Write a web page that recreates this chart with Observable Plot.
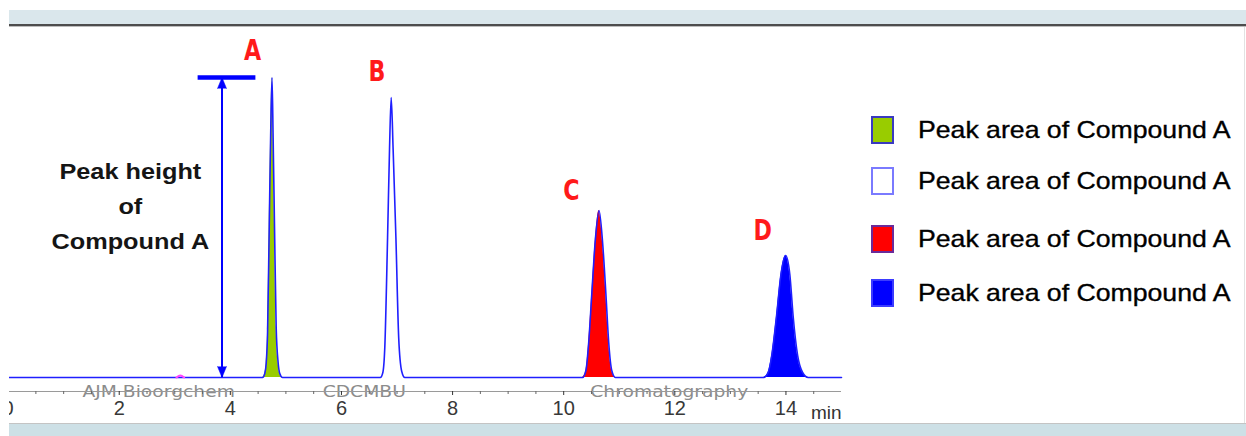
<!DOCTYPE html>
<html>
<head>
<meta charset="utf-8">
<script src="https://cdn.jsdelivr.net/npm/d3@7"></script>
<script src="https://cdn.jsdelivr.net/npm/@observablehq/plot@0.6"></script>
<style>
  body { margin: 0; background: #fff; }
  #wrap { position: relative; width: 1246px; height: 436px; overflow: hidden; font-family: "Liberation Sans", Arial, sans-serif; }
  #topband { position: absolute; left: 9px; right: 0; top: 10px; height: 14px; background: #dae7ec; }
  #topline { position: absolute; left: 9px; right: 0; top: 24px; height: 2px; background: #4d4d4d; }
  #topline2 { position: absolute; left: 9px; right: 0; top: 26px; height: 1px; background: #bdbdbd; }
  #rightline { position: absolute; right: 1px; width: 1px; top: 27px; height: 396px; background: #e2e2e2; }
  #chart { position: absolute; left: 9px; top: 27px; }
  #botline { position: absolute; left: 9px; right: 0; top: 423px; height: 1px; background: #c4c4c4; }
  #botband { position: absolute; left: 9px; right: 0; top: 424px; bottom: 0; background: #cde0e6; }
  .row { position: absolute; left: 871px; height: 28px; display: flex; align-items: center; }
  .sw { width: 23px; height: 28px; box-sizing: border-box; border: 2px solid #3333cc; }
  .lt { margin-left: 24px; font-size: 24px; color: #000; -webkit-text-stroke: 0.35px #000; white-space: nowrap; display: inline-block; transform: scaleX(1.11); transform-origin: left center; }
</style>
</head>
<body>
<div id="wrap">
  <div id="topband"></div>
  <div id="topline"></div>
  <div id="topline2"></div>
  <div id="rightline"></div>
  <div id="chart"></div>
  <div id="botline"></div>
  <div id="botband"></div>
  <div id="legend"></div>
</div>
<script>
// ---- Data (retention time in min, signal in mAU) ----
const peakNames = ["A", "B", "C", "D"];
const peakA = [[4.58,0],[4.62,4],[4.645,14],[4.67,45],[4.70,151],[4.725,240],[4.75,300],[4.77,240],[4.795,151],[4.825,50],[4.86,15],[4.89,4],[4.94,0]];
const peakB = [[6.70,0],[6.745,5],[6.78,30],[6.83,140],[6.865,228],[6.895,280],[6.93,228],[6.98,140],[7.03,40],[7.085,6],[7.14,0]];
const peakC = [[10.34,0],[10.40,7],[10.45,35],[10.505,83],[10.57,138],[10.636,167],[10.70,135],[10.76,83],[10.81,35],[10.865,7],[10.93,0]];
const peakD = [[13.60,0],[13.68,5],[13.75,24],[13.83,61],[13.91,103],[13.995,122],[14.07,103],[14.13,61],[14.21,22],[14.30,5],[14.40,0]];
const runStart = 0, runEnd = 15;
const blip = [[3.03,0],[3.10,2],[3.17,0]];

const labelTimes = [4.40, 6.64, 10.14, 13.58];
const labelHeights = [327, 306, 187, 147];

const majorTicks = [0, 2, 4, 6, 8, 10, 12, 14];
const minorTicks = [0.5,1,1.5,2.5,3,3.5,4.5,5,5.5,6.5,7,7.5,8.5,9,9.5,10.5,11,11.5,12.5,13,13.5,14.5];

const watermarks = ["AJM Bioorgchem", "CDCMBU", "Chromatography"];
const watermarkTimes = [2.71, 6.41, 11.9];

const heightNote = "Peak height\nof\nCompound A";
const heightNoteTime = 2.2, heightNoteLevel = 175;
const arrowTime = 3.85;
const barTimes = [3.42, 4.46];

const legendLabels = ["Peak area of Compound A", "Peak area of Compound A", "Peak area of Compound A", "Peak area of Compound A"];
const fills = ["#99cc00", "#ffffff", "#ff0000", "#0000ff"];
const legendBorders = ["#3a3ac0", "#7a7aff", "#6a2a9a", "#3b3bff"];

// ---- Derived ----
const peaks = [peakA, peakB, peakC, peakD];
const trace = [[runStart, 0], ...peakA, ...peakB, ...peakC, ...peakD, [runEnd, 0]];
const heightA = d3.max(peakA, d => d[1]);
const labels = peakNames.map((n, i) => ({name: n, t: labelTimes[i], v: labelHeights[i]}));
const traceBlue = "#1f1fff";
const fx = d => d[0], fy = d => d[1];
const sans = "Liberation Sans, Arial, sans-serif";

const marks = [];
peaks.forEach((p, i) => {
  marks.push(Plot.areaY(p, {x: fx, y: fy, fill: fills[i], curve: "monotone-x"}));
});
marks.push(
  Plot.text(watermarks, {x: (d, i) => watermarkTimes[i], y: -14, text: d => d, fontFamily: "DejaVu Sans", fontSize: 16, fill: "#8c8c8c", ariaDescription: "wm"}),
  Plot.ruleY([-14], {stroke: "#9a9a9a", strokeWidth: 1}),
  Plot.axisX(minorTicks, {tickSize: 3, tickFormat: () => "", stroke: "#666", label: null}),
  Plot.axisX(majorTicks, {tickSize: 4, tickPadding: 5, fontSize: 20, fontFamily: sans, stroke: "#333", fill: "#383838", label: null}),
  Plot.text(["min"], {frameAnchor: "bottom-right", textAnchor: "end", lineAnchor: "middle", dy: 21, fontSize: 19, fill: "#333", fontFamily: sans}),
  Plot.line(trace, {x: fx, y: fy, stroke: traceBlue, strokeWidth: 1.6, curve: "monotone-x"}),
  Plot.line(blip, {x: fx, y: fy, stroke: "#ff44ff", strokeWidth: 2, curve: "monotone-x"}),
  Plot.ruleX([arrowTime], {y1: 0, y2: heightA, stroke: "#0000ff", strokeWidth: 2}),
  Plot.ruleY([heightA], {x1: barTimes[0], x2: barTimes[1], stroke: "#0000ff", strokeWidth: 4.5}),
  Plot.vector([[arrowTime, heightA]], {x: fx, y: fy, length: 11, rotate: 0, anchor: "end", shape: "spike", r: 4.5, fill: "#0000ff", stroke: "#0000ff", strokeWidth: 0.5}),
  Plot.vector([[arrowTime, 0]], {x: fx, y: fy, length: 11, rotate: 180, anchor: "end", shape: "spike", r: 4.5, fill: "#0000ff", stroke: "#0000ff", strokeWidth: 0.5}),
  Plot.text([heightNote], {x: heightNoteTime, y: heightNoteLevel, text: d => d, fontSize: 22, fontWeight: "bold", lineHeight: 1.59, fill: "#151515", fontFamily: sans, ariaDescription: "note"}),
  Plot.text(labels, {x: "t", y: "v", text: "name", fill: "#ff1a1a", fontSize: 29, fontWeight: "bold", fontFamily: "'Liberation Sans Narrow', 'DejaVu Sans Condensed', 'Liberation Sans', sans-serif", ariaDescription: "peaklabel"})
);

const plot = Plot.plot({
  width: 1237,
  height: 397,
  marginTop: 0, marginRight: 405, marginBottom: 33, marginLeft: 0,
  style: {background: "transparent"},
  x: {domain: [runStart, runEnd], range: [-1.4, 832]},
  y: {domain: [-14, 350], axis: null},
  marks
});

// horizontal stretch of some texts, to match the reference's wide lettering
function stretch(svg, desc, k) {
  svg.querySelectorAll(`g[aria-description="${desc}"] text`).forEach(t => {
    let tr = t.getAttribute("transform");
    if (!tr) {
      const x = t.getAttribute("x") || 0, y = t.getAttribute("y") || 0;
      t.removeAttribute("x"); t.removeAttribute("y");
      tr = `translate(${x},${y})`;
    }
    t.setAttribute("transform", tr + ` scale(${k},1)`);
  });
}
stretch(plot, "wm", 1.17);
stretch(plot, "note", 1.15);
stretch(plot, "peaklabel", 0.85);

document.getElementById("chart").appendChild(plot);

// ---- Legend (HTML) ----
const legendTops = [116, 167, 225, 279];
const legend = document.getElementById("legend");
legendLabels.forEach((lab, i) => {
  const row = document.createElement("div");
  row.className = "row";
  row.style.top = legendTops[i] + "px";
  const sw = document.createElement("div");
  sw.className = "sw";
  sw.style.background = fills[i];
  sw.style.borderColor = legendBorders[i];
  const tx = document.createElement("span");
  tx.className = "lt";
  tx.textContent = lab;
  row.appendChild(sw);
  row.appendChild(tx);
  legend.appendChild(row);
});
</script>
</body>
</html>
